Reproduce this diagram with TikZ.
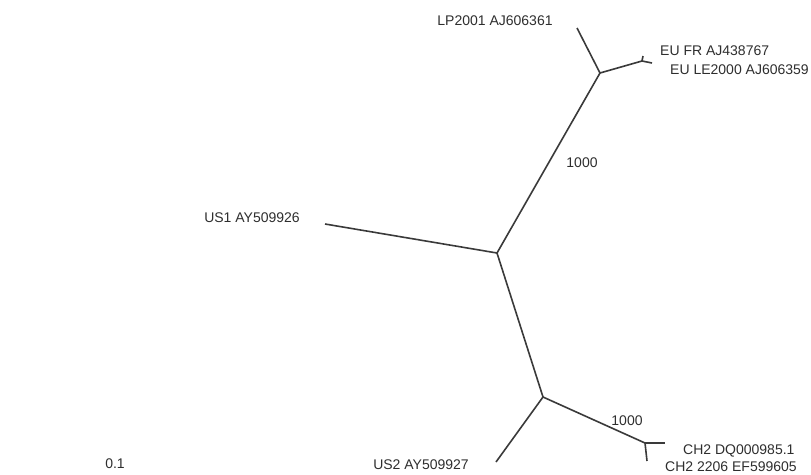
\documentclass[tikz,border=0pt]{standalone}
\usepackage{fontspec}
\setmainfont{Liberation Sans}
\definecolor{ramo}{HTML}{3A3A3A}
\definecolor{testo}{HTML}{2E2E2E}
\tikzset{
  branch/.style={draw=ramo,line width=1.6pt},
  taxon/.style={inner sep=0pt,text=testo,font=\fontsize{14}{16}\selectfont},
}
\begin{document}
\begin{tikzpicture}[x=1pt,y=-1pt]
        \useasboundingbox (0,0) rectangle (811,474);
        %%%%%%%%%% Nodi %%%%%%%%%%
        \coordinate (n0) at (497,253);
        \coordinate (n1) at (600,73);
        \coordinate (n2) at (543,397);
        \coordinate (eu) at (642,61);
        \coordinate (ch) at (645,443);
        \coordinate (us1) at (325,224);
        \coordinate (lp) at (577,28);
        \coordinate (eufr) at (643,56);
        \coordinate (eule) at (652,63);
        \coordinate (us2) at (496,462);
        \coordinate (chdq) at (665,443);
        \coordinate (chee) at (647,461);

        %%%%%%%%% Rami %%%%%%%%%
        \draw[branch] (n0) -- (us1);
        \draw[branch] (n0) -- (n1);
        \draw[branch] (n0) -- (n2);
        \draw[branch] (n1) -- (lp);
        \draw[branch] (n1) -- (eu);
        \draw[branch] (eu) -- (eufr);
        \draw[branch] (eu) -- (eule);
        \draw[branch] (n2) -- (us2);
        \draw[branch] (n2) -- (ch);
        \draw[branch] (ch) -- (chdq);
        \draw[branch] (ch) -- (chee);

        %%%%%%%%% Etichette %%%%%%%%%
        \node[taxon] (lplab) at (495,21) {LP2001 AJ606361};
        \node[taxon,anchor=west] (eufrlab) at (660,51) {EU FR AJ438767};
        \node[taxon,anchor=west] (eulelab) at (670,70) {EU LE2000 AJ606359};
        \node[taxon] (us1lab) at (252,218) {US1 AY509926};
        \node[taxon] (us2lab) at (421,465) {US2 AY509927};
        \node[taxon,anchor=west] (chdqlab) at (683,451) {CH2 DQ000985.1};
        \node[taxon,anchor=west] (cheelab) at (665,467) {CH2 2206 EF599605};
        \node[taxon] (boot1) at (582,163) {1000};
        \node[taxon] (boot2) at (627,421) {1000};
        \node[taxon] (scale) at (115,464) {0.1};
    \end{tikzpicture}
\end{document}
